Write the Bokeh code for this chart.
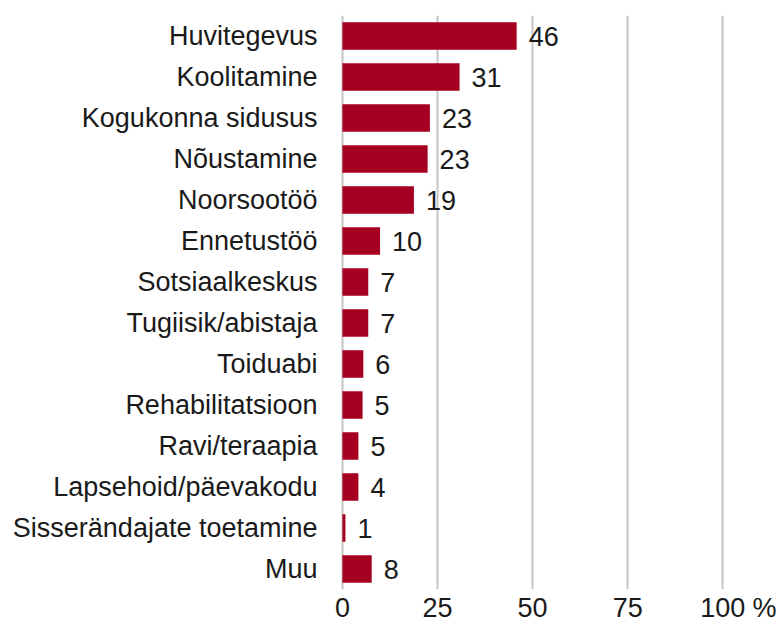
from bokeh.plotting import figure
from bokeh.models import ColumnDataSource, FactorRange, Range1d, FixedTicker
from bokeh.core.properties import value
from bokeh.embed import file_html
from bokeh.resources import INLINE

categories = ["Huvitegevus", "Koolitamine", "Kogukonna sidusus", "Nõustamine", "Noorsootöö",
              "Ennetustöö", "Sotsiaalkeskus", "Tugiisik/abistaja", "Toiduabi", "Rehabilitatsioon",
              "Ravi/teraapia", "Lapsehoid/päevakodu", "Sisserändajate toetamine", "Muu"]
values = [45.8, 30.8, 23.0, 22.4, 18.8, 9.9, 6.8, 6.8, 5.5, 5.3, 4.2, 4.2, 0.8, 7.7]
labels = ["46", "31", "23", "23", "19", "10", "7", "7", "6", "5", "5", "4", "1", "8"]
grid_ticks = [0, 25, 50, 75, 100]
unit_pos = 111
tick_text = {0: "0", 25: "25", 50: "50", 75: "75", 100: "100", unit_pos: "%"}

FONT = "Liberation Sans"
BAR = "#A50021"
TXT = "#1a1a1a"

src = ColumnDataSource(dict(cat=categories, val=values, lab=labels))

p = figure(width=776, height=625, output_backend="svg", toolbar_location=None,
           y_range=FactorRange(factors=categories[::-1]), x_range=Range1d(-0.5, 112),
           min_border_left=340, min_border_right=8, min_border_top=15, min_border_bottom=0)

p.hbar(y="cat", right="val", left=0, height=0.666, source=src, fill_color=BAR, line_color=None)
p.text(x="val", y="cat", text="lab", source=src, x_offset=12, text_baseline="middle",
       text_align="left", text_font=value(FONT), text_font_size="27px", text_color=TXT)

p.xaxis.ticker = FixedTicker(ticks=grid_ticks + [unit_pos])
p.xaxis.major_label_overrides = tick_text
for ax in (p.xaxis, p.yaxis):
    ax.axis_line_color = None
    ax.major_tick_line_color = None
    ax.minor_tick_line_color = None
    ax.major_label_text_font = FONT
    ax.major_label_text_font_size = "27px"
    ax.major_label_text_color = TXT
p.xaxis.major_label_standoff = -3
p.yaxis.major_label_standoff = 17

p.ygrid.grid_line_color = None
p.xgrid.ticker = FixedTicker(ticks=grid_ticks)
p.xgrid.grid_line_color = "#C4C4C4"
p.xgrid.grid_line_width = 2
p.outline_line_color = None

open("out.html", "w").write(file_html(p, INLINE))
